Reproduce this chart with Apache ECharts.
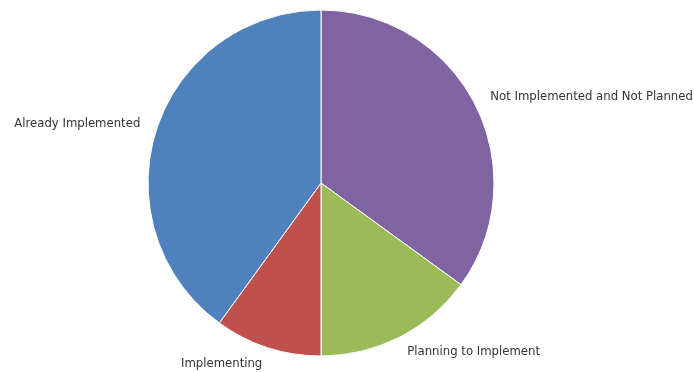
<!DOCTYPE html>
<html>
<head>
<meta charset="utf-8">
<script src="https://cdn.jsdelivr.net/npm/echarts@6/dist/echarts.min.js"></script>
<style>html,body{margin:0;padding:0;background:#fff}#c{width:694px;height:372px}</style>
</head>
<body>
<div id="c"></div>
<script>
const categories = ["Not Implemented and Not Planned", "Planning to Implement", "Implementing", "Already Implemented"];
const values = [35, 15, 10, 40];
const colors = ["#8064a2", "#9bbb59", "#c0504d", "#4f81bd"];

const chart = echarts.init(document.getElementById('c'), null, {renderer: 'canvas'});
chart.setOption({
  animation: false,
  series: [{
    type: 'pie',
    center: [321, 183],
    radius: 173,
    startAngle: 90,
    clockwise: true,
    avoidLabelOverlap: false,
    data: categories.map((n, i) => ({name: n, value: values[i], itemStyle: {color: colors[i]}})),
    itemStyle: {borderColor: '#ffffff', borderWidth: 1},
    label: {
      show: true,
      position: 'outside',
      alignTo: 'none',
      distanceToLabelLine: 0,
      fontFamily: 'DejaVu Sans',
      fontSize: 11.7,
      color: '#333333',
      formatter: '{b}'
    },
    labelLine: {show: false, length: 17, length2: 0},
    emphasis: {disabled: true}
  }]
});
</script>
</body>
</html>
